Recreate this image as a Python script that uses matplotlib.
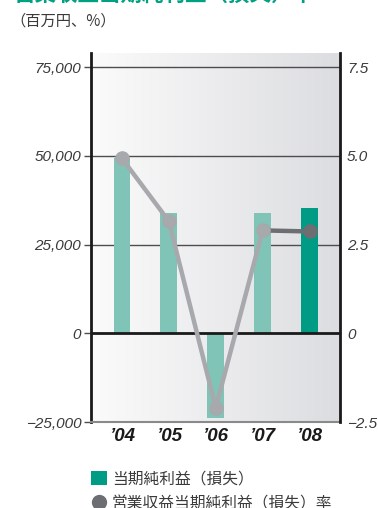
import numpy as np
import matplotlib
matplotlib.use("Agg")
import matplotlib.pyplot as plt
from matplotlib.patches import Patch
from matplotlib.lines import Line2D
from matplotlib.colors import LinearSegmentedColormap

plt.rcParams['font.family'] = ['Liberation Sans', 'Noto Sans CJK JP', 'DejaVu Sans']

# Data
years = ["’04", "’05", "’06", "’07", "’08"]
net_income = [49500, 33800, -24000, 33800, 35200]       # 百万円
net_margin = [4.93, 3.16, -2.10, 2.90, 2.87]            # %
left_ticks = [-25000, 0, 25000, 50000, 75000]
left_labels = ["−25,000", "0", "25,000", "50,000", "75,000"]
right_ticks = [-2.5, 0, 2.5, 5.0, 7.5]
right_labels = ["−2.5", "0", "2.5", "5.0", "7.5"]

TEAL_LIGHT = "#80c4b8"
TEAL_DARK = "#009b85"
GRAY_LIGHT = "#a7a9ac"
GRAY_DARK = "#6d6e71"
TEXT = "#3a3a3a"
JP = ['Noto Sans CJK JP', 'DejaVu Sans']

fig = plt.figure(figsize=(3.78, 5.08), dpi=100)
ax = fig.add_axes([91 / 378, 1 - 422 / 508, 249 / 378, 369 / 508])

x = np.arange(len(years))
xlim = (-0.66, 4.65)
ylim = (-25000, 79000)
ax.set_xlim(*xlim)
ax.set_ylim(*ylim)

# Background: horizontal white-to-grey wash
cmap = LinearSegmentedColormap.from_list("wash", ["#fbfbfb", "#dcdde0"])
ax.imshow(np.linspace(0, 1, 256).reshape(1, -1), cmap=cmap, aspect='auto',
          extent=[xlim[0], xlim[1], ylim[0], ylim[1]], zorder=0)

# Gridlines
for v in [25000, 50000, 75000]:
    ax.axhline(v, color="#4d4d4d", lw=1.0, zorder=1)

bar_colors = [TEAL_LIGHT] * 4 + [TEAL_DARK]
ax.bar(x, net_income, width=0.36, color=bar_colors, zorder=2)
ax.axhline(0, color="#1a1a1a", lw=2.0, zorder=3)

ax.set_yticks(left_ticks)
ax.set_yticklabels(left_labels, fontstyle='italic', fontsize=11, color=TEXT)
ax.tick_params(axis='y', direction='out', length=5, width=1, color="#4d4d4d", pad=2)
ax.set_xticks(x)
ax.set_xticklabels(years, fontweight='bold', fontstyle='italic', fontsize=13.5, color="#1a1a1a")
ax.tick_params(axis='x', length=0, pad=4)

ax.spines['top'].set_visible(False)
ax.spines['left'].set_linewidth(2.0)
ax.spines['left'].set_color("#1a1a1a")
ax.spines['right'].set_visible(False)
ax.spines['bottom'].set_color("#8a8a8a")
ax.spines['bottom'].set_linewidth(1.5)

# Rate on secondary axis
ax2 = ax.twinx()
ax2.set_ylim(ylim[0] / 10000, ylim[1] / 10000)
ax2.spines['top'].set_visible(False)
ax2.spines['left'].set_visible(False)
ax2.spines['bottom'].set_visible(False)
ax2.spines['right'].set_linewidth(2.0)
ax2.spines['right'].set_color("#1a1a1a")
ax2.set_yticks(right_ticks)
ax2.set_yticklabels(right_labels, fontstyle='italic', fontsize=11, color=TEXT)
ax2.tick_params(axis='y', length=0, pad=5)

ax2.plot(x[3:], net_margin[3:], color=GRAY_DARK, lw=3.2, zorder=4, solid_capstyle='butt')
ax2.plot(x[:4], net_margin[:4], color=GRAY_LIGHT, lw=3.2, marker='o', markersize=9.5,
         zorder=5)
ax2.plot(x[4:], net_margin[4:], color=GRAY_DARK, lw=0, marker='o', markersize=9.5, zorder=5)

# Headings
fig.text(13 / 378, 1 - 5 / 508, "営業収益当期純利益（損失）率", family=JP, fontsize=15.5,
         fontweight='bold', color="#00a082", va='bottom', ha='left')
fig.text(10 / 378, 1 - 21 / 508, "（百万円、%）", family=JP, fontsize=11,
         color=TEXT, va='center', ha='left')

# Legend
handles = [Patch(facecolor=TEAL_DARK, edgecolor='none'),
           Line2D([], [], color=GRAY_DARK, marker='o', lw=0, markersize=10)]
leg = fig.legend(handles, ["当期純利益（損失）", "営業収益当期純利益（損失）率"],
                 loc='upper left', bbox_to_anchor=(83 / 378, 1 - 463 / 508),
                 frameon=False, prop={'family': JP, 'size': 11.3},
                 handlelength=1.0, handleheight=1.0, handletextpad=0.35,
                 labelspacing=0.5, borderpad=0)
for t in leg.get_texts():
    t.set_color(TEXT)

fig.savefig("out.png", dpi=100)
